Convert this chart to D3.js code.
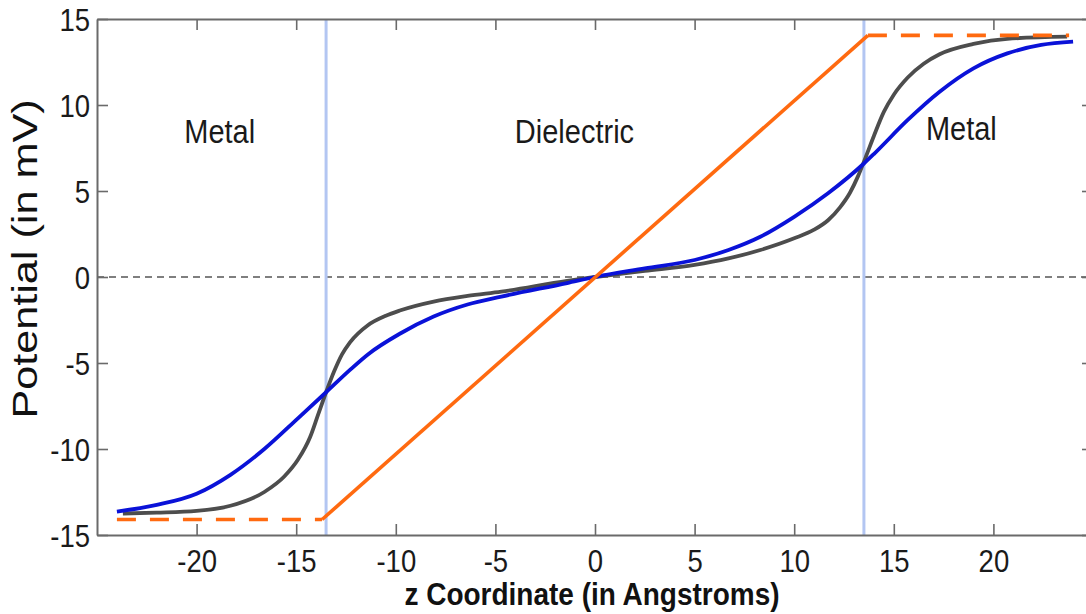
<!DOCTYPE html>
<html><head><meta charset="utf-8">
<script src="https://cdn.jsdelivr.net/npm/d3@7"></script>
<style>body{margin:0;background:#fff}svg{display:block}</style>
</head><body>
<svg id="c" width="1086" height="614"></svg>
<script>
// ---- data ----
const xTicks = [-20, -15, -10, -5, 0, 5, 10, 15, 20];
const yTicks = [-15, -10, -5, 0, 5, 10, 15];

const grayZ = [-23.7, -22, -20, -18.3, -16.6, -15.6, -14.9, -14.3, -13.9, -13.5, -13.1, -12.7, -12.3, -11.4, -10.5, -9.8, -8.1, -6.4, -4.7, -1.4, 0, 2.5, 5, 6.7, 8.3, 10, 11, 11.7, 12.3, 12.8, 13.2, 13.6, 14.0, 14.5, 15.0, 15.7, 16.5, 17.3, 19, 20.7, 23.7];
const grayV = [-13.75, -13.7, -13.6, -13.3, -12.5, -11.6, -10.6, -9.3, -8.0, -6.7, -5.5, -4.5, -3.8, -2.8, -2.25, -1.95, -1.43, -1.1, -0.85, -0.22, 0, 0.35, 0.70, 1.08, 1.57, 2.25, 2.75, 3.3, 4.05, 4.9, 5.85, 7.0, 8.2, 9.6, 10.6, 11.6, 12.4, 12.95, 13.55, 13.85, 13.97];

const blueZ = [-24, -22, -20, -18.3, -16.6, -14.9, -13.5, -12.3, -11.4, -9.8, -8.1, -6.4, -4.7, -1.4, 0, 2.5, 5, 6.7, 8.3, 10, 11.7, 13.5, 14.0, 15.7, 17.3, 19, 20.7, 22.4, 24];
const blueV = [-13.64, -13.25, -12.6, -11.5, -10.0, -8.2, -6.7, -5.4, -4.5, -3.3, -2.3, -1.6, -1.14, -0.35, 0, 0.5, 0.99, 1.57, 2.34, 3.5, 4.87, 6.6, 7.15, 9.13, 10.77, 12.13, 13.0, 13.49, 13.68];

const orangeDashLeftZ = [-24, -13.7];
const orangeDashLeftV = [-14.1, -14.1];
const orangeSolidZ = [-13.7, 13.7];
const orangeSolidV = [-14.1, 14.05];
const orangeDashRightZ = [13.7, 23.8];
const orangeDashRightV = [14.05, 14.05];

const boundaries = [-13.5, 13.5];
const regionNames = ["Metal", "Dielectric", "Metal"];
const xTitle = "z Coordinate (in Angstroms)";
const yTitle = "Potential (in mV)";

// ---- layout ----
const svg = d3.select("#c");
const L = 97, R = 1093, T = 19, B = 535;
const x = d3.scaleLinear().domain([-25, 25]).range([L, R]);
const y = d3.scaleLinear().domain([-15, 15]).range([B, T]);
const FONT = "'Liberation Sans', Arial, Helvetica, sans-serif";
const SY = 1.15;

const zip = (a, b) => a.map((d, i) => [d, b[i]]);
const line = d3.line().x(d => x(d[0])).y(d => y(d[1]));
const smooth = d3.line().x(d => x(d[0])).y(d => y(d[1])).curve(d3.curveMonotoneX);

// zero line
svg.append("line")
  .attr("x1", x(-25)).attr("x2", x(25)).attr("y1", y(0)).attr("y2", y(0))
  .attr("stroke", "#555").attr("stroke-width", 1.4).attr("stroke-dasharray", "7,5");

// boundary lines
svg.selectAll(".bnd").data(boundaries).join("line")
  .attr("x1", d => x(d)).attr("x2", d => x(d)).attr("y1", T).attr("y2", B)
  .attr("stroke", "#b3c6f2").attr("stroke-width", 3);

// curves
svg.append("path").datum(zip(grayZ, grayV)).attr("d", smooth)
  .attr("fill", "none").attr("stroke", "#4d4d4d").attr("stroke-width", 3.8);
svg.append("path").datum(zip(blueZ, blueV)).attr("d", smooth)
  .attr("fill", "none").attr("stroke", "#0a12d8").attr("stroke-width", 3.8);

const orange = "#ff6a10";
svg.append("path").datum(zip(orangeDashLeftZ, orangeDashLeftV)).attr("d", line)
  .attr("fill", "none").attr("stroke", orange).attr("stroke-width", 3.6).attr("stroke-dasharray", "19,14");
svg.append("path").datum(zip(orangeDashRightZ, orangeDashRightV)).attr("d", line)
  .attr("fill", "none").attr("stroke", orange).attr("stroke-width", 3.6).attr("stroke-dasharray", "19,14");
svg.append("path").datum(zip(orangeSolidZ, orangeSolidV)).attr("d", line)
  .attr("fill", "none").attr("stroke", orange).attr("stroke-width", 3.6);

// axes
const fmt = d => String(d);
const styleAxis = g => {
  g.select(".domain").attr("stroke", "#6a6a6a").attr("stroke-width", 2);
  g.selectAll(".tick line").attr("stroke", "#6a6a6a").attr("stroke-width", 1.6);
};
const gB = svg.append("g").attr("transform", `translate(0,${B})`)
  .call(d3.axisBottom(x).tickValues(xTicks).tickFormat(fmt).tickSizeInner(-11).tickSizeOuter(0)).call(styleAxis);
gB.selectAll(".tick text").attr("y", 0).attr("dy", 0)
  .attr("transform", `translate(0,37) scale(1,${SY})`)
  .attr("font-family", FONT).attr("font-size", 27.5).attr("fill", "#1a1a1a");
svg.append("g").attr("transform", `translate(0,${T})`)
  .call(d3.axisTop(x).tickValues(xTicks).tickFormat("").tickSizeInner(-11).tickSizeOuter(0)).call(styleAxis);
const gL = svg.append("g").attr("transform", `translate(${L},0)`)
  .call(d3.axisLeft(y).tickValues(yTicks).tickFormat(fmt).tickSizeInner(-11).tickSizeOuter(0)).call(styleAxis);
gL.selectAll(".tick text").attr("x", 0).attr("dy", "0.36em")
  .attr("transform", `translate(-7,0) scale(1,${SY})`)
  .attr("font-family", FONT).attr("font-size", 27.5).attr("fill", "#1a1a1a");
svg.append("g").attr("transform", `translate(${R},0)`)
  .call(d3.axisRight(y).tickValues(yTicks).tickFormat("").tickSizeInner(-11).tickSizeOuter(0)).call(styleAxis);

// region labels
const regionPos = [[-18.84, 7.8], [-1.03, 7.8], [18.39, 7.95]];
svg.selectAll(".reg").data(regionNames).join("text")
  .attr("transform", (d, i) => `translate(${x(regionPos[i][0])},${y(regionPos[i][1])}) scale(1,${SY})`)
  .attr("text-anchor", "middle").attr("font-family", FONT).attr("font-size", 29)
  .attr("fill", "#1a1a1a").text(d => d);

// titles
svg.append("text")
  .attr("transform", `translate(592,605) scale(1,${SY})`)
  .attr("text-anchor", "middle").attr("font-family", FONT).attr("font-size", 28)
  .attr("font-weight", "bold").attr("fill", "#111").text(xTitle);
svg.append("text")
  .attr("transform", `translate(37,259) scale(1,1.2) rotate(-90)`)
  .attr("text-anchor", "middle").attr("font-family", FONT).attr("font-size", 36)
  .attr("fill", "#111").text(yTitle);
</script>
</body></html>
